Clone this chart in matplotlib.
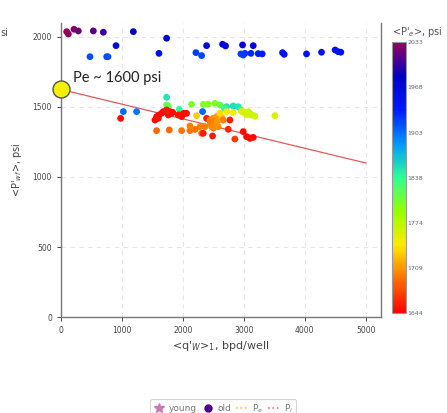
import numpy as np
import matplotlib
matplotlib.use("Agg")
import matplotlib.pyplot as plt
from matplotlib.colors import LinearSegmentedColormap
from matplotlib.lines import Line2D

# well averages: rate, flowing pressure, reservoir pressure (colour)
q_w = [93, 120, 213, 284, 530, 694, 1186, 1732,
       902, 475, 749, 770, 1607, 2213, 2306, 2388, 2650, 2699, 2978, 3153,
       2951, 2989, 3016, 3115, 3235, 3300, 3634, 3661, 4027, 4273, 4497, 4546, 4590,
       1732, 1732, 1760, 1940, 2142, 2333, 2415, 2525, 2607,
       2716, 2825, 2907, 2680, 2950,
       1022, 1240, 2322, 978,
       1541, 1596, 1650, 1678, 1787, 1814, 1951, 2033, 2060, 1978, 1760, 1568,
       1607, 1732, 1831, 1923, 2016,
       2224, 2388,
       2443, 2497, 2552, 2525, 2470, 2579, 2634, 2607, 2716, 2825, 2661,
       2470, 2500, 2530, 2450, 2560,
       3508, 2989, 3044, 3098, 3180, 2962, 3016, 3071, 3126, 2770,
       1568, 1776, 1978, 2115, 2115, 2279, 2361, 2497, 2579, 2306, 2200,
       2333, 2486, 2743, 2852, 2989, 3044, 3098, 3153]
p_wf = [2038, 2021, 2055, 2043, 2043, 2034, 2038, 1991,
        1938, 1859, 1859, 1859, 1883, 1888, 1867, 1938, 1948, 1936, 1943, 1938,
        1879, 1871, 1883, 1883, 1881, 1879, 1888, 1876, 1879, 1891, 1907, 1895, 1891,
        1569, 1514, 1505, 1483, 1519, 1519, 1521, 1526, 1514,
        1502, 1507, 1502, 1490, 1480,
        1467, 1467, 1467, 1419,
        1407, 1419, 1455, 1467, 1467, 1455, 1443, 1455, 1455, 1431, 1443, 1431,
        1443, 1479, 1462, 1443, 1455,
        1438, 1419,
        1407, 1419, 1431, 1395, 1383, 1407, 1426, 1455, 1467, 1460, 1407,
        1360, 1350, 1375, 1390, 1400,
        1438, 1467, 1443, 1455, 1436, 1467, 1455, 1467, 1443, 1407,
        1331, 1336, 1331, 1331, 1364, 1359, 1359, 1359, 1359, 1312, 1340,
        1312, 1293, 1341, 1271, 1324, 1288, 1276, 1283]
p_e = [2033, 2030, 2025, 2020, 2012, 2005, 1985, 1975,
       1965, 1915, 1915, 1915, 1960, 1922, 1918, 1968, 1968, 1965, 1968, 1968,
       1920, 1920, 1925, 1930, 1935, 1935, 1950, 1950, 1945, 1950, 1950, 1950, 1950,
       1850, 1810, 1815, 1840, 1805, 1800, 1800, 1805, 1810,
       1850, 1855, 1850, 1840, 1840,
       1905, 1900, 1905, 1650,
       1650, 1650, 1655, 1650, 1652, 1655, 1650, 1655, 1652, 1650, 1652, 1650,
       1650, 1655, 1650, 1652, 1650,
       1730, 1655,
       1700, 1705, 1710, 1695, 1690, 1705, 1720, 1735, 1740, 1745, 1700,
       1700, 1695, 1705, 1700, 1710,
       1760, 1745, 1750, 1755, 1765, 1755, 1760, 1765, 1765, 1655,
       1690, 1690, 1695, 1695, 1700, 1700, 1700, 1705, 1705, 1690, 1695,
       1655, 1655, 1660, 1670, 1650, 1648, 1648, 1650]

pe_est = 1625
trend_q = [0, 5000]
trend_p = [1625, 1100]
cb_ticks = [1644, 1709, 1774, 1838, 1903, 1968, 2033]

rainbow = LinearSegmentedColormap.from_list("rb", [
    (1.0, 0.0, 0.0), (1.0, 0.435, 0.0), (1.0, 0.918, 0.0), (0.592, 1.0, 0.0),
    (0.173, 1.0, 0.588), (0.0, 0.596, 1.0), (0.0, 0.098, 1.0), (0.0, 0.0, 0.784),
    (0.588, 0.0, 0.353)])

fig = plt.figure(figsize=(4.47, 4.13), dpi=100)
ax = fig.add_axes([0.1365, 0.2324, 0.716, 0.712])
cax = fig.add_axes([0.877, 0.242, 0.0313, 0.656])

ax.plot(trend_q, trend_p, color="#e05a5a", lw=0.9, zorder=2)
sc = ax.scatter(q_w, p_wf, c=p_e, cmap=rainbow, vmin=1644, vmax=2033,
                s=24, edgecolors="none", zorder=3)
ax.scatter([0], [pe_est], s=150, color="#f5f000", edgecolors="#555555",
           linewidths=1.0, zorder=5, clip_on=False)
ax.text(190, 1710, "Pe ~ 1600 psi", fontsize=10.5, color="#222222",
        family="Lato", va="center")

ax.set_xlim(0, 5250)
ax.set_ylim(0, 2100)
ax.set_xticks(range(0, 5001, 1000))
ax.set_yticks(range(0, 2001, 500))
ax.grid(True, color="#e6e6e6", ls=(0, (4, 4)), lw=0.8)
ax.set_axisbelow(True)
ax.spines["top"].set_visible(False)
for s in ["left", "bottom", "right"]:
    ax.spines[s].set_color("#777777")
    ax.spines[s].set_linewidth(1.0)
ax.tick_params(labelsize=5.5, colors="#444444", length=3, width=0.7)
ax.set_xlabel(r"<q'$_{W}$>$_1$, bpd/well", fontsize=8, color="#444444", labelpad=3)
ax.set_ylabel(r"<P'$_{wf}$>, psi", fontsize=7, color="#444444", labelpad=6)

cb = fig.colorbar(sc, cax=cax, ticks=cb_ticks)
cb.outline.set_edgecolor("#999999")
cax.tick_params(labelsize=4.5, colors="#5a6a80", length=0, pad=1)
fig.text(0.877, 0.915, r"<P'$_e$>, psi", fontsize=7, color="#555555", ha="left")
fig.text(0.0, 0.912, "si", fontsize=7, color="#555555", ha="left")

handles = [
    Line2D([], [], marker="*", ls="none", color="#c878b8", ms=7),
    Line2D([], [], marker="o", ls="none", color="#4b0090", ms=5),
    Line2D([], [], ls=":", color="#f5c040", lw=1.2),
    Line2D([], [], ls=":", color="#e07080", lw=1.2),
]
leg = fig.legend(handles, ["young", "old", r"P$_e$", r"P$_i$"], ncol=4,
                 loc="upper left", bbox_to_anchor=(0.336, 0.033),
                 fontsize=6.5, frameon=True, handlelength=1.4, columnspacing=0.6,
                 handletextpad=0.3, borderpad=0.3, borderaxespad=0)
leg.get_frame().set_edgecolor("#cccccc")
leg.get_frame().set_linewidth(0.8)
for t in leg.get_texts():
    t.set_color("#777777")

fig.savefig("out.png", dpi=100)
